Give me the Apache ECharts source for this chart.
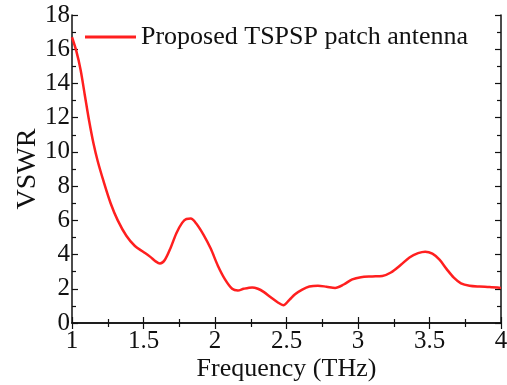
<!DOCTYPE html>
<html><head><meta charset="utf-8">
<script src="https://cdn.jsdelivr.net/npm/echarts@6/dist/echarts.min.js"></script>
<style>html,body{margin:0;padding:0;background:#fff}#c{width:507px;height:385px}</style>
</head><body><div id="c"></div>
<script>
const freq = [1.0,1.03,1.06,1.09,1.12,1.15,1.18,1.22,1.27,1.32,1.38,1.44,1.5,1.55,1.585,1.615,1.65,1.69,1.73,1.77,1.8,1.83,1.87,1.92,1.97,2.02,2.07,2.12,2.16,2.2,2.26,2.3,2.34,2.39,2.44,2.478,2.52,2.56,2.61,2.66,2.72,2.78,2.84,2.9,2.96,3.02,3.1,3.17,3.23,3.3,3.36,3.42,3.47,3.52,3.57,3.62,3.67,3.72,3.78,3.85,3.92,4.0];
const vswr = [16.7,15.9,14.8,13.3,11.8,10.5,9.45,8.3,7.0,6.0,5.1,4.5,4.15,3.85,3.6,3.48,3.7,4.4,5.25,5.85,6.08,6.1,5.8,5.15,4.35,3.35,2.55,2.0,1.9,2.0,2.08,2.0,1.82,1.5,1.2,1.04,1.35,1.68,1.95,2.13,2.18,2.12,2.05,2.25,2.55,2.68,2.72,2.75,2.95,3.4,3.83,4.08,4.17,4.05,3.7,3.15,2.65,2.32,2.18,2.13,2.1,2.05];
const seriesName = 'Proposed TSPSP patch antenna';
const xTicks = [1,1.5,2,2.5,3,3.5,4];
const yTicks = [0,2,4,6,8,10,12,14,16,18];

const font = 'Liberation Serif';
const axisLine = {show:true, lineStyle:{color:'#111', width:1.5}};
const tickStyle = {color:'#111', width:1.2};
const chart = echarts.init(document.getElementById('c'));
const xBase = {type:'value', min:1, max:4, interval:0.5,
  axisLine, axisTick:{show:true, inside:true, length:6, lineStyle:tickStyle},
  minorTick:{show:true, splitNumber:2, length:4, lineStyle:tickStyle},
  splitLine:{show:false}};
const yBase = {type:'value', min:0, max:18, interval:2,
  axisLine, axisTick:{show:true, inside:true, length:6, lineStyle:tickStyle},
  minorTick:{show:true, splitNumber:2, length:4, lineStyle:tickStyle},
  splitLine:{show:false}};
chart.setOption({
  animation:false,
  backgroundColor:'#fff',
  grid:{left:72, right:6, top:15, bottom:62, containLabel:false, outerBoundsMode:'none'},
  legend:{show:true, left:80, top:19, itemWidth:51, itemHeight:3, itemGap:0,
    textStyle:{fontFamily:font, fontSize:26, color:'#111'},
    data:[{name:seriesName, icon:'rect'}]},
  xAxis:[
    Object.assign({}, xBase, {position:'bottom',
      axisLabel:{show:true, fontFamily:font, fontSize:25, color:'#111', margin:6,
        formatter:v=>xTicks.includes(v)?String(v):''},
      name:'Frequency (THz)', nameLocation:'middle', nameGap:33, nameMoveOverlap:false,
      nameTextStyle:{fontFamily:font, fontSize:26, color:'#111'}}),
    Object.assign({}, xBase, {position:'top', axisLabel:{show:false}})
  ],
  yAxis:[
    Object.assign({}, yBase, {position:'left',
      axisLabel:{show:true, fontFamily:font, fontSize:25, color:'#111', margin:2,
        formatter:v=>yTicks.includes(v)?String(v):''},
      name:'VSWR', nameLocation:'middle', nameGap:30, nameMoveOverlap:false,
      nameTextStyle:{fontFamily:font, fontSize:28, color:'#111'}}),
    Object.assign({}, yBase, {position:'right', axisLabel:{show:false}})
  ],
  series:[{
    name:seriesName, type:'line', smooth:0.3, symbol:'none',
    data: freq.map((f,i)=>[f, vswr[i]]),
    lineStyle:{color:'#ff1f1f', width:2.5}, itemStyle:{color:'#ff1f1f'}
  }]
});
</script></body></html>
